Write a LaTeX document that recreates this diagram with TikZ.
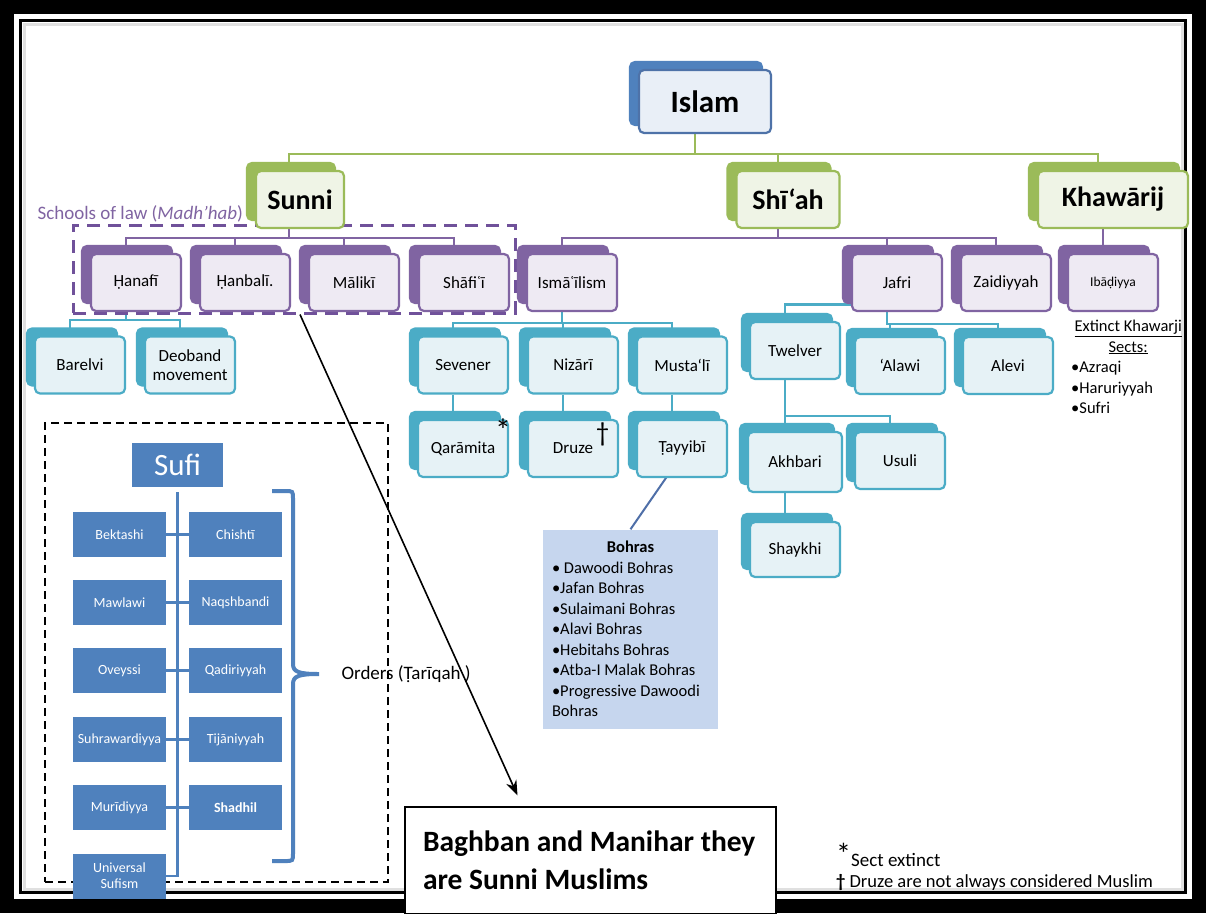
\documentclass[tikz,border=0pt]{standalone}
\usepackage{fontspec}
\setmainfont{Carlito}
\usetikzlibrary{shadows,arrows.meta,backgrounds}

\definecolor{bluemain}{HTML}{4F81BD}
\definecolor{blueedge}{HTML}{4E72A8}
\definecolor{bluetint}{HTML}{E9EFF7}
\definecolor{greenmain}{HTML}{9BBB59}
\definecolor{greentint}{HTML}{EFF4E6}
\definecolor{purplemain}{HTML}{8064A2}
\definecolor{purpletint}{HTML}{EEEAF3}
\definecolor{tealmain}{HTML}{4BACC6}
\definecolor{tealtint}{HTML}{E6F2F6}
\definecolor{lawdash}{HTML}{70519A}
\definecolor{bohrasfill}{HTML}{C6D6EE}
\definecolor{bohrasline}{HTML}{4F6FA8}

\tikzstyle{tierbox} = [rectangle, rounded corners=5pt, line width=2.2pt, minimum width=90pt, minimum height=57pt, inner sep=1pt, align=center, font=\fontsize{17}{19}\selectfont]
\tikzstyle{bluebox} = [tierbox, draw=blueedge, fill=bluetint, copy shadow={shadow xshift=-9pt, shadow yshift=8pt, draw=bluemain, fill=bluemain}]
\tikzstyle{greenbox} = [tierbox, draw=greenmain, fill=greentint, copy shadow={shadow xshift=-9pt, shadow yshift=8pt, draw=greenmain, fill=greenmain}, font=\fontsize{28}{30}\selectfont\bfseries]
\tikzstyle{purplebox} = [tierbox, draw=purplemain, fill=purpletint, copy shadow={shadow xshift=-9pt, shadow yshift=8pt, draw=purplemain, fill=purplemain}]
\tikzstyle{tealbox} = [tierbox, draw=tealmain, fill=tealtint, copy shadow={shadow xshift=-8pt, shadow yshift=8pt, draw=tealmain, fill=tealmain}]
\tikzstyle{orderbox} = [rectangle, fill=bluemain, text=white, minimum width=93pt, minimum height=45pt, inner sep=1pt, align=center, font=\fontsize{14}{16}\selectfont]
\tikzstyle{listtext} = [align=left, inner sep=0pt, execute at begin node={\spaceskip=0pt\xspaceskip=0pt}]
\tikzstyle{greenline} = [greenmain, line width=2pt]
\tikzstyle{purpleline} = [purplemain, line width=2pt]
\tikzstyle{tealline} = [tealmain, line width=2.4pt]
\tikzstyle{sufiline} = [bluemain, line width=2.6pt]
\tikzstyle{arrow} = [line width=1.6pt,-{Stealth[length=15pt,width=11pt]}]

\begin{document}
\begin{tikzpicture}[x=1pt, y=-1pt]
\useasboundingbox (0,0) rectangle (1206,913);
\begin{scope}[on background layer]
\fill[black] (0,0) rectangle (1206,913);
\fill[white] (14,14) rectangle (1192,899);
\draw[black, line width=3pt] (20.5,20.5) rectangle (1185.5,892.5);
\draw[black!12, line width=3pt] (24,24) rectangle (1182,889);
\end{scope}

% frames
\node (schools) [draw=lawdash, dashed, dash pattern=on 13pt off 8pt, line width=3pt, minimum width=442pt, minimum height=88pt] at (294,269) {};
\node (lawlabel) [anchor=west, text=purplemain, font=\fontsize{19}{20}\selectfont] at (34,214) {Schools of law (\textit{Madh'hab})};
\node (sufiframe) [draw=black, dash pattern=on 8pt off 5pt, line width=2.4pt, minimum width=343pt, minimum height=459pt] at (216.5,652.5) {};

% tree
\node (islam) [bluebox, minimum width=132pt, minimum height=63pt, font=\fontsize{31}{33}\selectfont\bfseries] at (705,101.5) {Islam};
\node (sunni) [greenbox, minimum width=88pt] at (300,199.5) {Sunni};
\node (shiah) [greenbox, minimum width=103pt] at (788,199.5) {Shī‘ah};
\node (khawarij) [greenbox, minimum width=150pt] at (1113,199.5) {Khawārij};

\node (hanafi) [purplebox] at (136,282.5) {Ḥanafī};
\node (hanbali) [purplebox] at (245,282.5) {Ḥanbalī.};
\node (maliki) [purplebox] at (354,282.5) {Mālikī};
\node (shafii) [purplebox] at (464,282.5) {Shāfiʿī};
\node (ismaili) [purplebox] at (572,282.5) {Ismāʿīlism};
\node (jafri) [purplebox] at (897,282.5) {Jafri};
\node (zaidi) [purplebox] at (1006,282.5) {Zaidiyyah};
\node (ibadi) [purplebox, font=\fontsize{13.5}{15}\selectfont] at (1113,282.5) {Ibāḍiyya};

\node (barelvi) [tealbox] at (80,365) {Barelvi};
\node (deoband) [tealbox] at (190,365) {Deoband\\movement};
\node (sevener) [tealbox] at (463,365) {Sevener};
\node (nizari) [tealbox] at (573,365) {Nizārī};
\node (mustali) [tealbox] at (682,365) {Musta‘lī};
\node (qaramita) [tealbox] at (463,448.5) {Qarāmita\rlap{\smash{\raisebox{12pt}{\fontsize{32}{32}\selectfont *}}}};
\node (druze) [tealbox] at (573,448.5) {Druze\rlap{\,\smash{\raisebox{12pt}{\fontsize{27}{27}\selectfont †}}}};
\node (tayyibi) [tealbox] at (682,448.5) {Ṭayyibī};

\node (twelver) [tealbox] at (795,350.5) {Twelver};
\node (alawi) [tealbox] at (900,365.5) {‘Alawi};
\node (alevi) [tealbox] at (1008,365.5) {Alevi};
\node (akhbari) [tealbox, minimum width=94pt, minimum height=60pt] at (795,462) {Akhbari};
\node (usuli) [tealbox] at (900,460.5) {Usuli};
\node (shaykhi) [tealbox, minimum height=55pt] at (795,549.5) {Shaykhi};

\node (extinct) [listtext, anchor=north west, text width=114pt, font=\fontsize{16.5}{20.5}\selectfont] at (1071,320) {\makebox[\linewidth]{\underline{Extinct Khawarji}}\\ \makebox[\linewidth]{\underline{Sects:}}\\ •Azraqi\\ •Haruriyyah\\ •Sufri};

\node (bohras) [listtext, fill=bohrasfill, minimum width=175pt, minimum height=199pt, text width=157pt, font=\fontsize{16.5}{20.5}\selectfont] at (630.5,629) {\makebox[\linewidth]{\textbf{Bohras}}\\ • Dawoodi Bohras\\ •Jafan Bohras\\ •Sulaimani Bohras\\ •Alavi Bohras\\ •Hebitahs Bohras\\ •Atba-I Malak Bohras\\ •Progressive Dawoodi\\ Bohras};

% sufi orders
\node (sufi) [orderbox, minimum width=91pt, minimum height=44pt, font=\fontsize{31}{33}\selectfont] at (177.5,465) {Sufi};
\node (bektashi) [orderbox] at (119.5,534.5) {Bektashi};
\node (chishti) [orderbox] at (235.5,534.5) {Chishtī};
\node (mawlawi) [orderbox] at (119.5,602.5) {Mawlawi};
\node (naqshbandi) [orderbox] at (235.5,602.5) {Naqshbandi};
\node (oveyssi) [orderbox] at (119.5,670.5) {Oveyssi};
\node (qadiri) [orderbox] at (235.5,670.5) {Qadiriyyah};
\node (suhrawardi) [orderbox] at (119.5,739.5) {Suhrawardiyya};
\node (tijani) [orderbox] at (235.5,739.5) {Tijāniyyah};
\node (muridi) [orderbox] at (119.5,807.5) {Murīdiyya};
\node (shadhili) [orderbox, font=\fontsize{14}{16}\selectfont\bfseries] at (235.5,807.5) {Shadhil};
\node (universal) [orderbox] at (119.5,876) {Universal\\Sufism};
\node (orders) [anchor=west, font=\fontsize{19}{20}\selectfont] at (338,674) {Orders (Ṭarīqah )};
\draw [bluemain, line width=4pt] (272,491) -- (285,491) .. controls (293,491) .. (293,499) -- (293,664) .. controls (293,672) and (299,674) .. (319,674) .. controls (299,674) and (293,676) .. (293,684) -- (293,853) .. controls (293,861) .. (285,861) -- (272,861);

\node (baghban) [listtext, draw=black, fill=white, line width=1.2pt, minimum width=371pt, minimum height=107pt, text width=335pt, font=\fontsize{29.5}{38}\selectfont\bfseries] at (590.5,860.5) {Baghban and Manihar they\\are Sunni Muslims};
\node (extinctnote) [anchor=west, inner sep=0pt, font=\fontsize{19}{20}\selectfont] at (836,855) {\raisebox{2pt}{\fontsize{30}{30}\selectfont *}Sect extinct};
\node (druzenote) [anchor=west, inner sep=0pt, font=\fontsize{18.5}{20}\selectfont] at (836,882) {\textbf{†}\ Druze are not always considered Muslim};

\begin{scope}[on background layer]
\draw [greenline] ([xshift=-10pt]islam.south) -- ++(0,20) -| ([xshift=-11pt]sunni.north);
\draw [greenline] ([xshift=-10pt]islam.south) -- ++(0,20) -| ([xshift=-10pt]shiah.north);
\draw [greenline] ([xshift=-10pt]islam.south) -- ++(0,20) -| ([xshift=-15pt]khawarij.north);

\draw [purpleline] ([xshift=-11pt]sunni.south) -- ++(0,9) -| ([xshift=-10pt]hanafi.north);
\draw [purpleline] ([xshift=-11pt]sunni.south) -- ++(0,9) -| ([xshift=-10pt]hanbali.north);
\draw [purpleline] ([xshift=-11pt]sunni.south) -- ++(0,9) -| ([xshift=-10pt]maliki.north);
\draw [purpleline] ([xshift=-11pt]sunni.south) -- ++(0,9) -| ([xshift=-10pt]shafii.north);
\draw [purpleline] ([xshift=-10pt]shiah.south) -- ++(0,9) -| ([xshift=-10pt]ismaili.north);
\draw [purpleline] ([xshift=-10pt]shiah.south) -- ++(0,9) -| ([xshift=-10pt]jafri.north);
\draw [purpleline] ([xshift=-10pt]shiah.south) -- ++(0,9) -| ([xshift=-10pt]zaidi.north);
\draw [purpleline] ([xshift=-10pt]ibadi.north) -- ([xshift=-10pt]ibadi.north |- khawarij.south);

\draw [tealline] ([xshift=-10pt]hanafi.south) -- ++(0,8) -| ([xshift=-10pt]barelvi.north);
\draw [tealline] ([xshift=-10pt]hanafi.south) -- ++(0,8) -| ([xshift=-10pt]deoband.north);
\draw [tealline] ([xshift=-10pt]ismaili.south) -- ++(0,11) -| ([xshift=-10pt]sevener.north);
\draw [tealline] ([xshift=-10pt]ismaili.south) -- ++(0,11) -| ([xshift=-10pt]nizari.north);
\draw [tealline] ([xshift=-10pt]ismaili.south) -- ++(0,11) -| ([xshift=-10pt]mustali.north);
\draw [tealline] ([xshift=-10pt]sevener.south) -- ([xshift=-10pt]qaramita.north);
\draw [tealline] ([xshift=-10pt]nizari.south) -- ([xshift=-10pt]druze.north);
\draw [tealline] ([xshift=-10pt]mustali.south) -- ([xshift=-10pt]tayyibi.north);
\draw [tealline] ([xshift=-10pt,yshift=-22pt]jafri.center) -| ([xshift=-10pt]twelver.north);
\draw [tealline] ([xshift=-10pt]jafri.south) -- ++(0,12) -| ([xshift=-10pt]alawi.north);
\draw [tealline] ([xshift=-10pt]jafri.south) -- ++(0,12) -| ([xshift=-10pt]alevi.north);
\draw [tealline] ([xshift=-10pt]twelver.south) -- ++(0,36) -| ([xshift=-10pt]akhbari.north);
\draw [tealline] ([xshift=-10pt]twelver.south) -- ++(0,36) -| ([xshift=-10pt]usuli.north);
\draw [tealline] ([xshift=-10pt]akhbari.south) -- ([xshift=-10pt]shaykhi.north);
\draw [bohrasline, line width=2pt] ([xshift=-12pt,yshift=6pt]tayyibi.south) -- (bohras.north);

\draw [sufiline] ([yshift=-5pt]sufi.south) |- (universal.east);
\draw [sufiline] (bektashi) -- (chishti);
\draw [sufiline] (mawlawi) -- (naqshbandi);
\draw [sufiline] (oveyssi) -- (qadiri);
\draw [sufiline] (suhrawardi) -- (tijani);
\draw [sufiline] (muridi) -- (shadhili);
\end{scope}

\draw [arrow] ([xshift=6pt]schools.south) -- ([xshift=-73pt,yshift=11pt]baghban.north);

\end{tikzpicture}
\end{document}
